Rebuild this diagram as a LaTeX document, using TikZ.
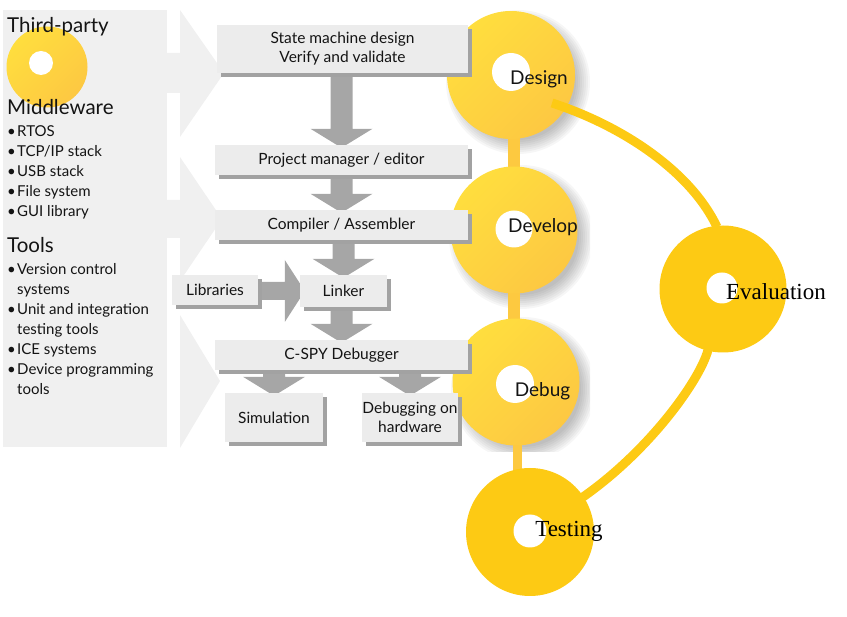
\documentclass[tikz,border=0pt]{standalone}
\usepackage{fontspec}
\setmainfont{Lato}
\newfontfamily\timesf{Liberation Serif}
\usetikzlibrary{shadows,calc}
\definecolor{panel}{HTML}{F0F0F0}
\definecolor{boxfill}{HTML}{ECECEC}
\definecolor{boxshadow}{HTML}{A2A2A2}
\definecolor{garrow}{HTML}{A6A6A6}
\definecolor{yelA}{HTML}{FFDE3E}
\definecolor{yelB}{HTML}{FDC842}
\definecolor{yelC}{HTML}{FDCA14}
\definecolor{yelBar}{HTML}{FDC940}
\definecolor{txt}{HTML}{141414}
\pgfdeclarelayer{back}
\pgfdeclarelayer{mid}
\pgfdeclarelayer{arr}
\pgfsetlayers{back,mid,arr,main}
\newcommand\blockdown[2]{%
  \path let \p1=(#1.south), \p2=(#2.north) in
  [fill=garrow] (\x2-11pt,\y1) -- (\x2+11pt,\y1) -- (\x2+11pt,\y2+16pt)
  -- (\x2+31pt,\y2+16pt) -- (\x2,\y2-3pt) -- (\x2-31pt,\y2+16pt)
  -- (\x2-11pt,\y2+16pt) -- cycle;}
\newcommand\blockright[2]{%
  \path let \p1=(#1.east), \p2=(#2.west) in
  [fill=garrow] (\x1,\y2+9pt) -- (\x2-15pt,\y2+9pt) -- (\x2-15pt,\y2+31pt)
  -- (\x2+5pt,\y2) -- (\x2-15pt,\y2-31pt) -- (\x2-15pt,\y2-9pt)
  -- (\x1,\y2-9pt) -- cycle;}
\newcommand\bul{\makebox[10pt][l]{\textbullet}}
\begin{document}
\begin{tikzpicture}[x=1pt,y=-1pt,
  headtxt/.style={anchor=base west,inner sep=0pt,text=txt,font=\fontsize{20.5}{24}\selectfont},
  itemtxt/.style={anchor=base west,inner sep=0pt,text=txt,font=\fontsize{15}{17}\selectfont},
  gbox/.style={fill=boxfill,draw=none,inner sep=0pt,align=center,text=txt,
    font=\fontsize{15.5}{19}\selectfont,
    drop shadow={shadow xshift=4pt,shadow yshift=-4pt,fill=boxshadow,opacity=1}},
  ycirc/.style={circle,inner sep=0pt,draw=none,top color=yelA,bottom color=yelB,shading angle=45},
  fcirc/.style={circle,inner sep=0pt,draw=none,fill=yelC},
  holec/.style={circle,inner sep=0pt,draw=none,fill=white},
  clabel/.style={anchor=base,inner sep=0pt,text=txt,font=\fontsize{19}{21}\selectfont},
  tlabel/.style={anchor=base,inner sep=0pt,text=black,font=\timesf\fontsize{23}{25}\selectfont},
  bar/.style={draw=yelBar,line width=12pt},
  curve/.style={draw=yelC,line width=9pt}]
\useasboundingbox (0,0) rectangle (847,617);

% ---------- background panel and light arrows
\begin{pgfonlayer}{back}
\fill[panel] (3,10) rectangle (167,447);
\fill[panel] (165,53) -- (180,53) -- (180,10) -- (224,73) -- (180,137) -- (180,93) -- (165,93) -- cycle;
\fill[panel] (165,200) -- (180,200) -- (180,157) -- (222,219) -- (180,281) -- (180,238) -- (165,238) -- cycle;
\fill[panel] (180,315) -- (220,381) -- (180,448) -- cycle;
% soft shadows of the upper circles
\begin{scope}
\clip (440,0) rectangle (590,452);
\foreach \cx/\cy in {511/75,514/230,516/382}{
  \foreach \r in {72,70,...,58}{
    \fill[black,opacity=0.035] (\cx+7,\cy+7) circle (\r);
  }
}
\end{scope}
\end{pgfonlayer}

% ---------- third-party icon
\node[ycirc,minimum size=81pt] (tpicon) at (47,67) {};
\node[holec,minimum size=24pt] (tphole) at (41,63) {};

% ---------- left texts
\node[headtxt] (tp) at (7,33) {Third-party};
\node[headtxt] (mw) at (7,115) {Middleware};
\node[itemtxt] (m1) at (7,137) {\bul RTOS};
\node[itemtxt] (m2) at (7,157) {\bul TCP/IP stack};
\node[itemtxt] (m3) at (7,177) {\bul USB stack};
\node[itemtxt] (m4) at (7,197) {\bul File system};
\node[itemtxt] (m5) at (7,217) {\bul GUI library};
\node[headtxt] (tools) at (7,253) {Tools};
\node[itemtxt] (t1) at (7,275) {\bul Version control};
\node[itemtxt] (t1b) at (7,295) {\hspace{10pt}systems};
\node[itemtxt] (t2) at (7,315) {\bul Unit and integration};
\node[itemtxt] (t2b) at (7,335) {\hspace{10pt}testing tools};
\node[itemtxt] (t3) at (7,355) {\bul ICE systems};
\node[itemtxt] (t4) at (7,375) {\bul Device programming};
\node[itemtxt] (t4b) at (7,395) {\hspace{10pt}tools};

% ---------- phase circles
\begin{pgfonlayer}{mid}
\coordinate (c1) at (511,75);
\coordinate (c2) at (514,230);
\coordinate (c3) at (516,382);
\coordinate (c4) at (530,532);
\draw[bar] (c2 |- c1) -- (c2);
\draw[bar] (c2) -- (c2 |- c3);
\draw[bar,line width=9pt] ([xshift=1.5pt]c3) -- ([xshift=1.5pt]c3 |- c4);
\node[ycirc,minimum size=128pt] (design) at (c1) {};
\node[ycirc,minimum size=127pt] (develop) at (c2) {};
\node[ycirc,minimum size=127pt] (debug) at (c3) {};
\node[holec,minimum size=38pt] (designhole) at (511,72) {};
\node[holec,minimum size=37pt] (develophole) at (514,229) {};
\node[holec,minimum size=38pt] (debughole) at (515,384) {};
\end{pgfonlayer}

\node[fcirc,minimum size=128pt] (testing) at (c4) {};
\node[fcirc,minimum size=127pt] (evaluation) at (723,289) {};
\node[holec,minimum size=33pt] (testinghole) at (530,531) {};
\node[holec,minimum size=31pt] (evalhole) at (722,288) {};

\coordinate (dstart) at (552,103);
\coordinate (eend) at (717,227);
\coordinate (tstart) at (583,497);
\coordinate (ebot) at (708,350);
\draw[curve] (dstart) .. controls (620,125) and (690,170) .. (eend);
\draw[curve] (tstart) .. controls (650,450) and (700,380) .. (ebot);

\node[clabel] (designlbl) at (539,85) {Design};
\node[clabel] (developlbl) at (543,233) {Develop};
\node[clabel] (debuglbl) at (542.5,397) {Debug};
\node[tlabel] (testinglbl) at (569,537) {Testing};
\node[tlabel] (evallbl) at (776,300) {Evaluation};

% ---------- tool chain boxes
\node[gbox,minimum width=251pt,minimum height=48pt] (b1) at (342.5,49) {State machine design\\Verify and validate};
\node[gbox,minimum width=253pt,minimum height=30pt] (b2) at (341.5,160) {Project manager / editor};
\node[gbox,minimum width=253pt,minimum height=30pt] (b3) at (341.5,225) {Compiler / Assembler};
\node[gbox,minimum width=86pt,minimum height=30pt] (libs) at (215,290) {Libraries};
\node[gbox,minimum width=87pt,minimum height=32pt] (linker) at (343.5,291) {Linker};
\node[gbox,minimum width=253pt,minimum height=30pt] (cspy) at (341.5,355) {C-SPY Debugger};
\node[gbox,minimum width=98pt,minimum height=49pt] (sim) at (274,417.5) {Simulation};
\node[gbox,minimum width=96pt,minimum height=49pt] (hw) at (410,417.5) {Debugging on\\hardware};

\begin{pgfonlayer}{arr}
\blockdown{b1}{b2}
\blockdown{b2}{b3}
\blockdown{b3}{linker}
\blockdown{linker}{cspy}
\blockdown{cspy}{sim}
\blockdown{cspy}{hw}
\blockright{libs}{linker}
\end{pgfonlayer}
\end{tikzpicture}
\end{document}
